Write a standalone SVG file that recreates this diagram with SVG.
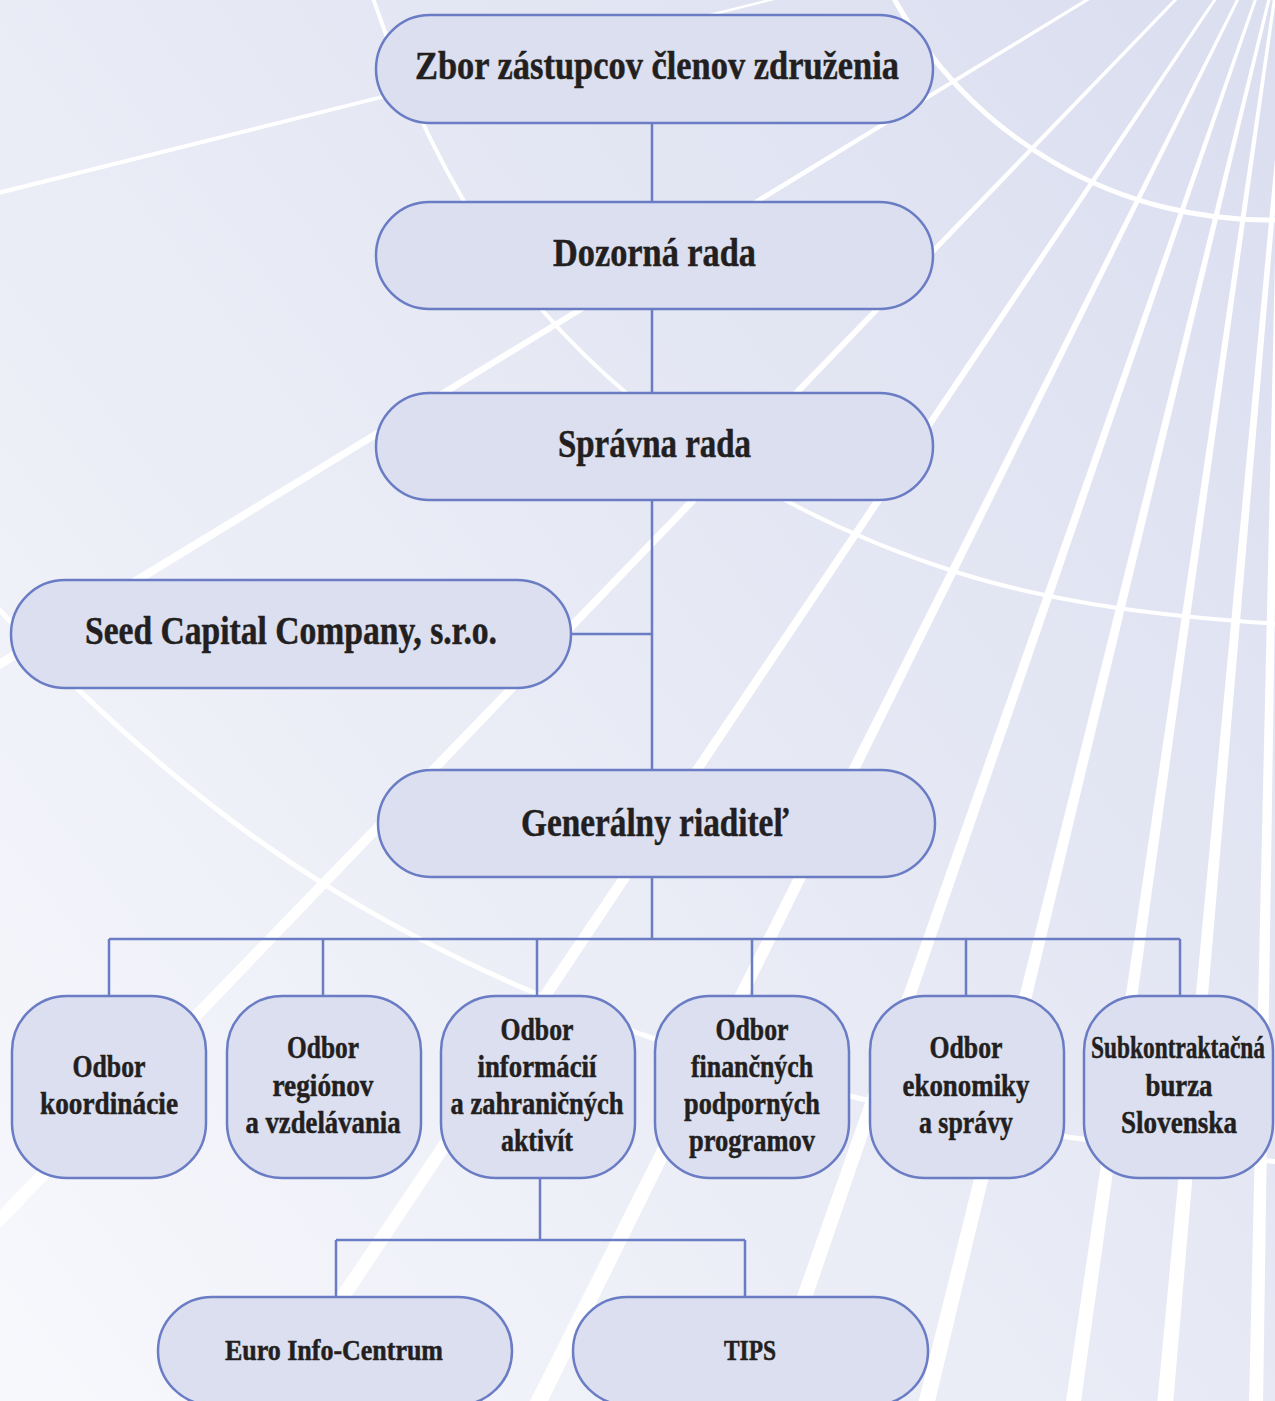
<svg xmlns="http://www.w3.org/2000/svg" width="1275" height="1401" viewBox="0 0 1275 1401">
<defs>
<linearGradient id="bg" x1="1" y1="0.1" x2="0" y2="0.95">
<stop offset="0" stop-color="#dcdff0"/>
<stop offset="0.5" stop-color="#e8eaf5"/>
<stop offset="1" stop-color="#f7f8fc"/>
</linearGradient>
<style>
.node{fill:#dcdff0;stroke:#6a7cc4;stroke-width:2.5}
.conn{fill:none;stroke:#6a7cc4;stroke-width:2.5}
.ray{fill:#ffffff;stroke:none}
.arc{fill:none;stroke:#ffffff}
text{font-family:"Liberation Serif","Times New Roman",serif;font-weight:bold;fill:#231f20;stroke:#231f20;stroke-width:0.5;text-anchor:middle}
.t1{font-size:40px}
.t2{font-size:32px}
.t3{font-size:29px}
</style>
</defs>
<rect x="0" y="0" width="1275" height="1401" fill="url(#bg)"/>
<g id="background">
<polygon class="ray" points="790.3,-3.8 -9.5,197.2 -10.5,192.8 789.7,-6.2"/>
<polygon class="ray" points="1095.8,-3.7 -7.6,673.8 -12.4,666.2 1094.2,-6.3"/>
<polygon class="ray" points="1181.1,-4 -15.3,1244.5 -24.7,1235.5 1178.9,-6"/>
<polygon class="ray" points="1219.2,-4.2 276.2,1409.2 263.8,1400.8 1216.8,-5.8"/>
<polygon class="ray" points="1241.3,-4.3 544.2,1408.6 529.8,1401.4 1238.7,-5.7"/>
<polygon class="ray" points="1258.4,-4.5 774.6,1407.6 759.4,1402.4 1255.6,-5.5"/>
<polygon class="ray" points="1271.5,-4.6 933.8,1406.9 918.2,1403.1 1268.5,-5.4"/>
<polygon class="ray" points="1276.5,-4.8 1080.4,1406 1065.6,1404 1273.5,-5.2"/>
<polygon class="ray" points="1293.5,-5 1173,1405 1157,1405 1290.5,-5"/>
<polygon class="ray" points="1284,-5 1263,1405 1249,1405 1281,-5"/>
<path class="arc" stroke-width="5" d="M892,-5 A426,426 0 0 0 1280,219.8"/>
<path class="arc" stroke-width="4" d="M372,-5 C410,109 464,221 543,311 C650,434 801,523 956,572 C1060,605 1171,617 1280,624"/>
<path class="arc" stroke-width="5" d="M-10,600 C89,706 199,806 322,883 C485,985 671,1053 858,1098 C996,1132 1139,1147 1280,1162"/>
</g>
<g id="connectors">
<path class="conn" d="M652,123V202M652,309V393M652,500V770M571,634H652M652,877V939M109,939H1180M109,939V996M323,939V996M537,939V996M752,939V996M966,939V996M1180,939V996M540,1178V1240M336,1240H745M336,1240V1297M745,1240V1297"/>
</g>
<g id="n-zbor"><rect class="node" x="376" y="15" width="557" height="108" rx="54"/><text class="t1" x="657" y="79" textLength="484" lengthAdjust="spacingAndGlyphs">Zbor zástupcov členov združenia</text></g>
<g id="n-dozorna"><rect class="node" x="376" y="202" width="557" height="107" rx="53.5"/><text class="t1" x="654.5" y="266" textLength="203" lengthAdjust="spacingAndGlyphs">Dozorná rada</text></g>
<g id="n-spravna"><rect class="node" x="376" y="393" width="557" height="107" rx="53.5"/><text class="t1" x="654.5" y="457" textLength="193" lengthAdjust="spacingAndGlyphs">Správna rada</text></g>
<g id="n-seed"><rect class="node" x="11" y="580" width="560" height="108" rx="54"/><text class="t1" x="291" y="644" textLength="412" lengthAdjust="spacingAndGlyphs">Seed Capital Company, s.r.o.</text></g>
<g id="n-gr"><rect class="node" x="378" y="770" width="557" height="107" rx="53.5"/><text class="t1" x="655" y="836" textLength="268" lengthAdjust="spacingAndGlyphs">Generálny riaditeľ</text></g>
<g id="n-koord"><rect class="node" x="12" y="996" width="194" height="182" rx="55"/>
<text class="t2" x="109" y="1077" textLength="73" lengthAdjust="spacingAndGlyphs">Odbor</text>
<text class="t2" x="109" y="1114" textLength="138" lengthAdjust="spacingAndGlyphs">koordinácie</text></g>
<g id="n-region"><rect class="node" x="227" y="996" width="194" height="182" rx="55"/>
<text class="t2" x="323" y="1058" textLength="72" lengthAdjust="spacingAndGlyphs">Odbor</text>
<text class="t2" x="323" y="1096" textLength="101" lengthAdjust="spacingAndGlyphs">regiónov</text>
<text class="t2" x="323" y="1133" textLength="155" lengthAdjust="spacingAndGlyphs">a vzdelávania</text></g>
<g id="n-info"><rect class="node" x="441" y="996" width="194" height="182" rx="55"/>
<text class="t2" x="537" y="1040" textLength="73" lengthAdjust="spacingAndGlyphs">Odbor</text>
<text class="t2" x="537" y="1077" textLength="119" lengthAdjust="spacingAndGlyphs">informácií</text>
<text class="t2" x="537" y="1114" textLength="173" lengthAdjust="spacingAndGlyphs">a zahraničných</text>
<text class="t2" x="537" y="1151" textLength="72" lengthAdjust="spacingAndGlyphs">aktivít</text></g>
<g id="n-fin"><rect class="node" x="655" y="996" width="194" height="182" rx="55"/>
<text class="t2" x="752" y="1040" textLength="73" lengthAdjust="spacingAndGlyphs">Odbor</text>
<text class="t2" x="752" y="1077" textLength="122" lengthAdjust="spacingAndGlyphs">finančných</text>
<text class="t2" x="752" y="1114" textLength="136" lengthAdjust="spacingAndGlyphs">podporných</text>
<text class="t2" x="752" y="1151" textLength="126" lengthAdjust="spacingAndGlyphs">programov</text></g>
<g id="n-ekon"><rect class="node" x="870" y="996" width="194" height="182" rx="55"/>
<text class="t2" x="966" y="1058" textLength="73" lengthAdjust="spacingAndGlyphs">Odbor</text>
<text class="t2" x="966" y="1096" textLength="127" lengthAdjust="spacingAndGlyphs">ekonomiky</text>
<text class="t2" x="966" y="1133" textLength="94" lengthAdjust="spacingAndGlyphs">a správy</text></g>
<g id="n-sub"><rect class="node" x="1084" y="996" width="189" height="182" rx="55"/>
<text class="t2" transform="translate(1178,1058) scale(0.73,1)" x="0" y="0">Subkontraktačná</text>
<text class="t2" x="1179" y="1096" textLength="67" lengthAdjust="spacingAndGlyphs">burza</text>
<text class="t2" x="1179" y="1133" textLength="116" lengthAdjust="spacingAndGlyphs">Slovenska</text></g>
<g id="n-euro"><rect class="node" x="158" y="1297" width="354" height="108" rx="54"/><text class="t3" x="334" y="1360" textLength="218" lengthAdjust="spacingAndGlyphs">Euro Info-Centrum</text></g>
<g id="n-tips"><rect class="node" x="573" y="1297" width="355" height="108" rx="54"/><text class="t3" x="750" y="1360" textLength="52" lengthAdjust="spacingAndGlyphs">TIPS</text></g>
</svg>
